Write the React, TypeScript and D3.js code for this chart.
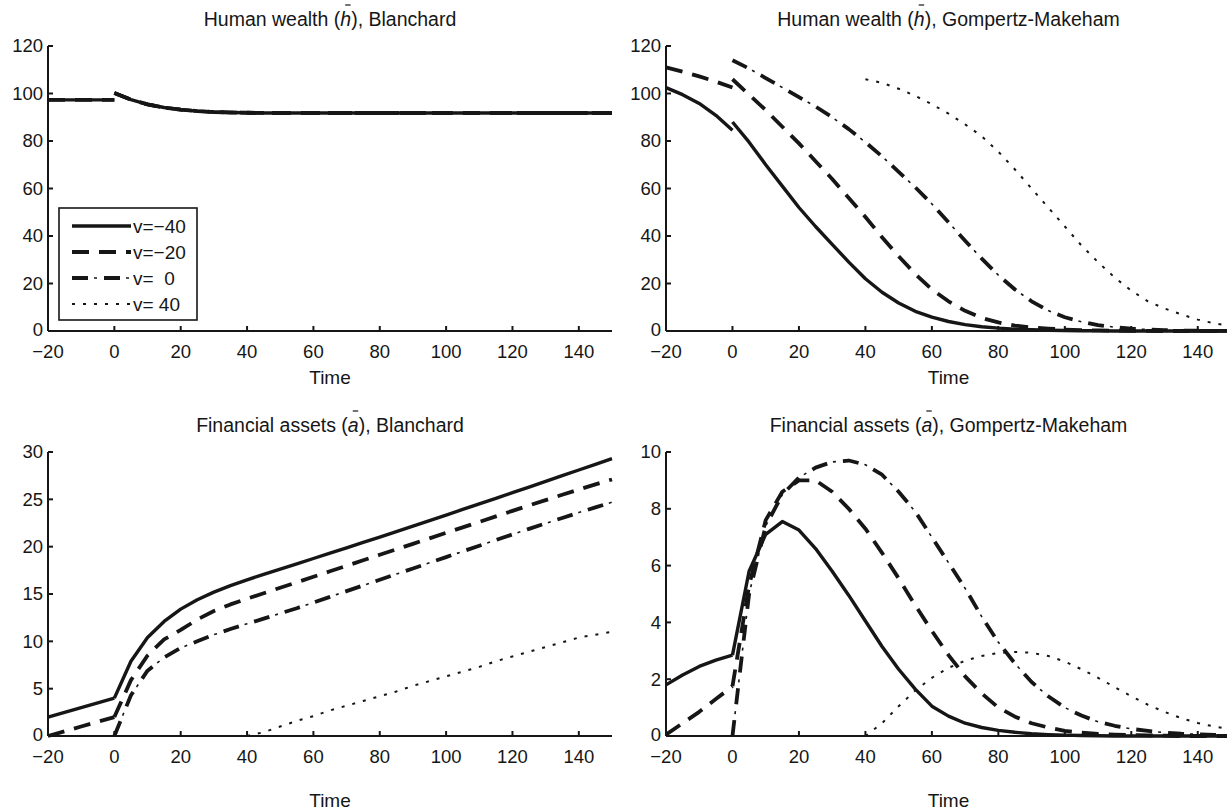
import React, { useEffect, useRef } from 'react';
import * as d3 from 'd3';

// ---------- data ----------
const TIME_PRE = [-20, -15, -10, -5, 0];
const TIME_POST = [0, 5, 10, 15, 20, 25, 30, 35, 40, 45, 50, 55, 60, 65, 70, 75, 80, 85, 90, 95, 100, 105, 110, 115, 120, 125, 130, 135, 140, 145, 150];
const X_TICKS = [-20, 0, 20, 40, 60, 80, 100, 120, 140];
const SERIES_LABELS = ['v=\u221240', 'v=\u221220', 'v=\u00a0\u00a00', 'v=\u00a040'];
const N = null;

// Human wealth, Blanchard (identical for every generation)
const hB_pre = [97.3, 97.3, 97.3, 97.3, 97.3];
const hB_post = [100.2, 97.4, 95.4, 94.1, 93.2, 92.6, 92.2, 92.0, 91.9, 91.8, 91.8, 91.8, 91.8, 91.8, 91.8, 91.8, 91.8, 91.8, 91.8, 91.8, 91.8, 91.8, 91.8, 91.8, 91.8, 91.8, 91.8, 91.8, 91.8, 91.8, 91.8];
const hB_40_post = [N, N, N, N, N, N, N, N, 91.9, 91.8, 91.8, 91.8, 91.8, 91.8, 91.8, 91.8, 91.8, 91.8, 91.8, 91.8, 91.8, 91.8, 91.8, 91.8, 91.8, 91.8, 91.8, 91.8, 91.8, 91.8, 91.8];

// Human wealth, Gompertz-Makeham
const hG_m40_pre = [102.5, 99.5, 95.8, 90.8, 84.5];
const hG_m40_post = [88, 79.5, 70, 61, 52, 44, 36.5, 29, 22, 16.3, 11.8, 8.3, 5.8, 4.0, 2.7, 1.8, 1.2, 0.8, 0.5, 0.3, 0.2, 0.1, 0.1, 0, 0, 0, 0, 0, 0, 0, 0];
const hG_m20_pre = [111, 109.2, 107.2, 105, 102.5];
const hG_m20_post = [106, 99.5, 93, 86, 79, 71.5, 64, 56, 48, 39.5, 31.5, 24, 17.5, 12.5, 8.5, 5.5, 3.6, 2.3, 1.5, 1.0, 0.6, 0.4, 0.25, 0.15, 0.1, 0.05, 0, 0, 0, 0, 0];
const hG_0_post = [114, 110.5, 106.5, 102.5, 98.5, 94.5, 90, 85, 79.5, 73.5, 67, 60.5, 53.5, 45.8, 38, 30.5, 23.5, 17.5, 12.5, 8.6, 5.8, 3.9, 2.5, 1.6, 1.0, 0.6, 0.35, 0.2, 0.1, 0.05, 0];
const hG_40_post = [N, N, N, N, N, N, N, N, 106, 104.5, 102, 99, 95.5, 91.5, 87, 82, 75.5, 68, 60, 52, 44, 36, 29, 22.5, 17, 12.5, 9.5, 7, 4.8, 3.2, 2];

// Financial assets, Blanchard
const aB_m40_pre = [2.0, 2.5, 3.0, 3.5, 4.0];
const aB_m40_post = [4.0, 7.9, 10.4, 12.1, 13.4, 14.4, 15.2, 15.88, 16.5, 17.07, 17.63, 18.19, 18.75, 19.31, 19.88, 20.45, 21.02, 21.6, 22.18, 22.76, 23.34, 23.93, 24.52, 25.11, 25.7, 26.3, 26.9, 27.5, 28.1, 28.7, 29.3];
const aB_m20_pre = [0.0, 0.5, 1.0, 1.5, 2.0];
const aB_m20_post = [2.0, 5.9, 8.5, 10.2, 11.2, 12.3, 13.2, 13.9, 14.5, 15.08, 15.66, 16.24, 16.82, 17.4, 17.98, 18.56, 19.14, 19.72, 20.3, 20.88, 21.46, 22.04, 22.62, 23.2, 23.78, 24.35, 24.92, 25.48, 26.04, 26.58, 27.1];
const aB_0_post = [0, 4.3, 6.9, 8.3, 9.3, 10.0, 10.7, 11.3, 11.85, 12.4, 12.95, 13.5, 14.1, 14.7, 15.3, 15.9, 16.5, 17.1, 17.7, 18.3, 18.9, 19.5, 20.1, 20.7, 21.3, 21.88, 22.46, 23.03, 23.6, 24.15, 24.7];
const aB_40_post = [N, N, N, N, N, N, N, N, 0, 0.4, 1.0, 1.6, 2.1, 2.7, 3.2, 3.7, 4.2, 4.7, 5.3, 5.8, 6.3, 6.8, 7.3, 7.9, 8.4, 8.9, 9.4, 9.9, 10.4, 10.7, 11.0];

// Financial assets, Gompertz-Makeham
const aG_m40_pre = [1.8, 2.15, 2.45, 2.67, 2.85];
const aG_m40_post = [2.85, 5.8, 7.1, 7.55, 7.25, 6.6, 5.8, 4.95, 4.05, 3.15, 2.35, 1.65, 1.05, 0.7, 0.45, 0.3, 0.2, 0.13, 0.08, 0.05, 0.03, 0.02, 0.01, 0, 0, 0, 0, 0, 0, 0, 0];
const aG_m20_pre = [0.05, 0.45, 0.85, 1.3, 1.75];
const aG_m20_post = [1.75, 5.3, 7.6, 8.6, 9.0, 9.0, 8.6, 8.0, 7.3, 6.45, 5.55, 4.6, 3.7, 2.85, 2.1, 1.5, 1.0, 0.68, 0.45, 0.3, 0.18, 0.12, 0.07, 0.05, 0.03, 0.02, 0.01, 0, 0, 0, 0];
const aG_0_post = [0, 5.0, 7.4, 8.5, 9.1, 9.45, 9.65, 9.7, 9.55, 9.2, 8.6, 7.9, 7.0, 6.1, 5.2, 4.2, 3.3, 2.55, 1.9, 1.4, 1.0, 0.72, 0.5, 0.36, 0.25, 0.18, 0.12, 0.08, 0.06, 0.04, 0.03];
const aG_40_post = [N, N, N, N, N, N, N, N, 0, 0.45, 1.05, 1.6, 2.05, 2.4, 2.65, 2.82, 2.92, 2.96, 2.93, 2.82, 2.62, 2.35, 2.05, 1.72, 1.4, 1.1, 0.85, 0.63, 0.46, 0.33, 0.23];

const Y_TICKS_H = [0, 20, 40, 60, 80, 100, 120];
const Y_TICKS_AB = [0, 5, 10, 15, 20, 25, 30];
const Y_TICKS_AG = [0, 2, 4, 6, 8, 10];

type Series = { pre: (number | null)[] | null; post: (number | null)[] };

const PANELS = [
  {
    pre: 'Human wealth (', sym: 'h', post: '), Blanchard', yTicks: Y_TICKS_H, legend: true,
    series: [
      { pre: hB_pre, post: hB_post }, { pre: hB_pre, post: hB_post },
      { pre: null, post: hB_post }, { pre: null, post: hB_40_post },
    ] as Series[],
  },
  {
    pre: 'Human wealth (', sym: 'h', post: '), Gompertz-Makeham', yTicks: Y_TICKS_H, legend: false,
    series: [
      { pre: hG_m40_pre, post: hG_m40_post }, { pre: hG_m20_pre, post: hG_m20_post },
      { pre: null, post: hG_0_post }, { pre: null, post: hG_40_post },
    ] as Series[],
  },
  {
    pre: 'Financial assets (', sym: 'a', post: '), Blanchard', yTicks: Y_TICKS_AB, legend: false,
    series: [
      { pre: aB_m40_pre, post: aB_m40_post }, { pre: aB_m20_pre, post: aB_m20_post },
      { pre: null, post: aB_0_post }, { pre: null, post: aB_40_post },
    ] as Series[],
  },
  {
    pre: 'Financial assets (', sym: 'a', post: '), Gompertz-Makeham', yTicks: Y_TICKS_AG, legend: false,
    series: [
      { pre: aG_m40_pre, post: aG_m40_post }, { pre: aG_m20_pre, post: aG_m20_post },
      { pre: null, post: aG_0_post }, { pre: null, post: aG_40_post },
    ] as Series[],
  },
];

// ---------- layout ----------
const FONT = '"Liberation Sans", Arial, Helvetica, sans-serif';
const INK = '#161616';
const LAYOUT = [
  { left: 48, right: 612, top: 46, bottom: 331, titleY: 26, tickY: 352, timeY: 377 },
  { left: 666, right: 1231, top: 46, bottom: 331, titleY: 26, tickY: 352, timeY: 377 },
  { left: 48, right: 612, top: 452, bottom: 736, titleY: 432, tickY: 757, timeY: 800 },
  { left: 666, right: 1231, top: 452, bottom: 736, titleY: 432, tickY: 757, timeY: 800 },
];
const STYLES = ['solid', 'dashed', 'dashdot', 'dotted'];
const TICK_FS = 18.5;
const TITLE_FS = 19.5;
const LABEL_FS = 19;
const LEGEND_FS = 19;

function drawStyled(g: any, d: string, style: string) {
  const base = () => g.append('path').attr('d', d).attr('fill', 'none').attr('stroke', INK).attr('stroke-linejoin', 'round');
  if (style === 'solid') base().attr('stroke-width', 3.4);
  else if (style === 'dashed') base().attr('stroke-width', 3.8).attr('stroke-dasharray', '17,10');
  else if (style === 'dashdot') {
    base().attr('stroke-width', 3.8).attr('stroke-dasharray', '16,16');
    base().attr('stroke-width', 1.6).attr('stroke-dasharray', '0,22,3,7');
  } else base().attr('stroke-width', 2).attr('stroke-dasharray', '3,8');
}

export default function App() {
  const ref = useRef<SVGSVGElement>(null);
  useEffect(() => {
    const svg = d3.select(ref.current);
    svg.selectAll('*').remove();
    const fmt = d3.format('d');
    PANELS.forEach((p, pi) => {
      const L = LAYOUT[pi];
      const x = d3.scaleLinear().domain([-20, 150]).range([L.left, L.right]);
      const y = d3.scaleLinear().domain([0, p.yTicks[p.yTicks.length - 1]]).range([L.bottom, L.top]);
      const g = svg.append('g');
      const line = d3.line<[number, number | null]>()
        .defined((d) => d[1] != null)
        .x((d) => x(d[0]))
        .y((d) => y(d[1] as number));

      // axes
      g.append('line').attr('x1', L.left).attr('x2', L.right).attr('y1', L.bottom).attr('y2', L.bottom)
        .attr('stroke', INK).attr('stroke-width', 2);
      g.append('line').attr('x1', L.left).attr('x2', L.left).attr('y1', L.top).attr('y2', L.bottom)
        .attr('stroke', INK).attr('stroke-width', 2);
      X_TICKS.forEach((t) => {
        g.append('line').attr('x1', x(t)).attr('x2', x(t)).attr('y1', L.bottom).attr('y2', L.bottom - 5)
          .attr('stroke', INK).attr('stroke-width', 2);
        g.append('text').attr('x', x(t)).attr('y', L.tickY).attr('dy', '0.35em').attr('text-anchor', 'middle')
          .attr('font-size', TICK_FS).attr('fill', INK).text(fmt(t));
      });
      p.yTicks.forEach((v) => {
        g.append('line').attr('x1', L.left).attr('x2', L.left + 5).attr('y1', y(v)).attr('y2', y(v))
          .attr('stroke', INK).attr('stroke-width', 2);
        g.append('text').attr('x', L.left - 5).attr('y', y(v) - (v === 0 ? 1.5 : 0)).attr('dy', '0.35em').attr('text-anchor', 'end')
          .attr('font-size', TICK_FS).attr('fill', INK).text(fmt(v));
      });

      // lines
      p.series.forEach((s, si) => {
        if (s.pre) drawStyled(g, line(TIME_PRE.map((t, j) => [t, s.pre![j]] as [number, number | null])) as string, STYLES[si]);
        drawStyled(g, line(TIME_POST.map((t, j) => [t, s.post[j]] as [number, number | null])) as string, STYLES[si]);
      });

      // title
      const cx = (L.left + L.right) / 2;
      const tt = g.append('text').attr('x', cx).attr('y', L.titleY).attr('text-anchor', 'middle')
        .attr('font-size', TITLE_FS).attr('fill', INK);
      tt.append('tspan').text(p.pre);
      tt.append('tspan').attr('font-style', 'italic').text(p.sym);
      tt.append('tspan').text(p.post);
      try {
        const ext = (tt.node() as any).getExtentOfChar(p.pre.length);
        g.append('line').attr('x1', ext.x + ext.width * 0.45).attr('x2', ext.x + ext.width * 0.95)
          .attr('y1', L.titleY - 21).attr('y2', L.titleY - 21).attr('stroke', INK).attr('stroke-width', 1.2);
      } catch (e) { /* ignore */ }

      g.append('text').attr('x', cx).attr('y', L.timeY).attr('dy', '0.35em').attr('text-anchor', 'middle')
        .attr('font-size', LABEL_FS).attr('fill', INK).text('Time');

      if (p.legend) {
        const lg = g.append('g');
        lg.append('rect').attr('x', 59).attr('y', 208).attr('width', 138).attr('height', 112)
          .attr('fill', '#fff').attr('stroke', INK).attr('stroke-width', 1.6);
        SERIES_LABELS.forEach((lab, i) => {
          const ly = 226 + i * 26;
          drawStyled(lg, `M72,${ly}L131,${ly}`, STYLES[i]);
          lg.append('text').attr('x', 133).attr('y', ly).attr('dy', '0.35em').attr('font-size', LEGEND_FS)
            .attr('fill', INK).text(lab);
        });
      }
    });
  }, []);
  return (
    <svg ref={ref} width={1227} height={812}
      style={{ position: 'absolute', left: 0, top: 0, background: '#fff', fontFamily: FONT }} />
  );
}
